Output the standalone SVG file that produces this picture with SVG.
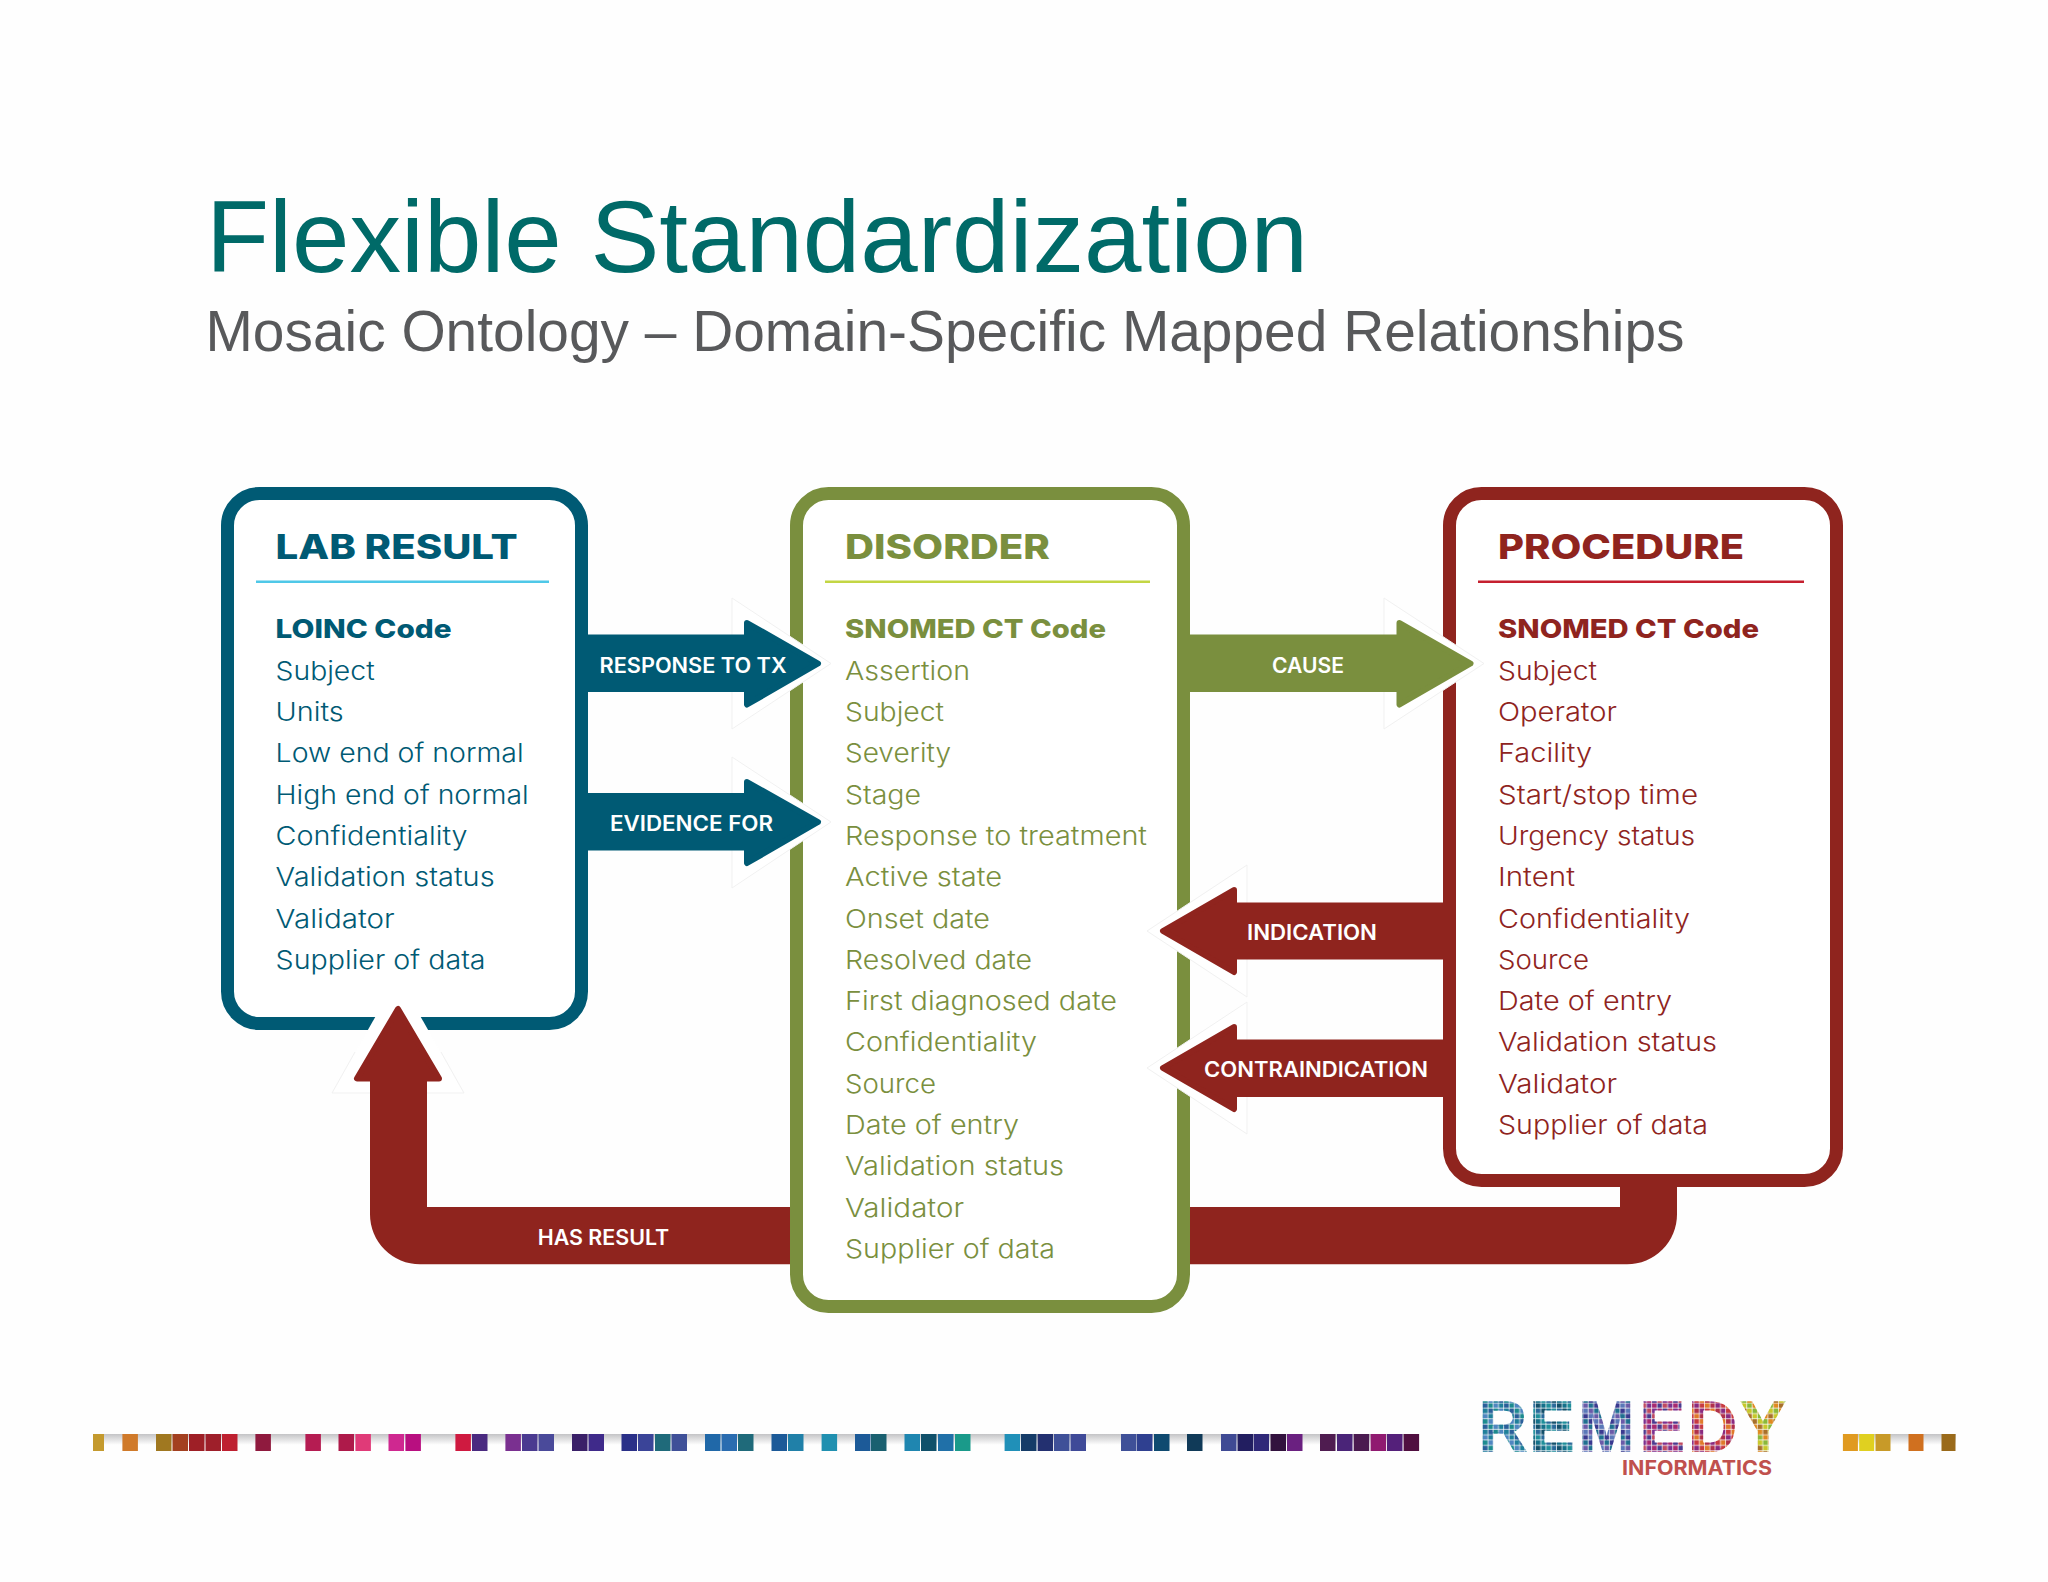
<svg xmlns="http://www.w3.org/2000/svg" width="2048" height="1582" viewBox="0 0 2048 1582">
<style>
text{font-family:Inter,"Open Sans","Liberation Sans",sans-serif}
.box{fill:#fff;stroke-width:13}
.h{font-size:34px;font-weight:800}
.b{font-size:26px;font-weight:800}
.i{font-size:26px;font-weight:350}
.l{font-size:21px;font-weight:600;fill:#fff}
.blue{fill:#005a74}.green{fill:#7a8f3e}.red{fill:#8f241e}
.sblue{stroke:#005a74}.sgreen{stroke:#7a8f3e}.sred{stroke:#8f241e}
.head{stroke-width:6;stroke-linejoin:round}
.halo{fill:#fff;stroke:#f1f1f1;stroke-width:1}
</style>
<defs>
<linearGradient id="shade" x1="0" y1="0" x2="0" y2="1"><stop offset="0" stop-color="#c4c4c6"/><stop offset="1" stop-color="#fff"/></linearGradient>
<path id="t1" d="M0 0h5.4v4.5h-5.4zM6.25 5.3h5.4v4.5h-5.4zM12.5 10.6h5.4v4.5h-5.4zM18.75 15.9h5.4v4.5h-5.4z"/>
<path id="t2" d="M6.25 0h5.4v4.5h-5.4zM12.5 5.3h5.4v4.5h-5.4zM18.75 10.6h5.4v4.5h-5.4zM0 15.9h5.4v4.5h-5.4z"/>
<path id="t3" d="M12.5 0h5.4v4.5h-5.4zM18.75 5.3h5.4v4.5h-5.4zM0 10.6h5.4v4.5h-5.4zM6.25 15.9h5.4v4.5h-5.4z"/>
<path id="t4" d="M18.75 0h5.4v4.5h-5.4zM0 5.3h5.4v4.5h-5.4zM6.25 10.6h5.4v4.5h-5.4zM12.5 15.9h5.4v4.5h-5.4z"/>
<pattern id="m1" width="25" height="21.2" patternUnits="userSpaceOnUse" patternTransform="scale(.89 1)"><use href="#t1" fill="#1f7f9a"/><use href="#t2" fill="#2a5f9a"/><use href="#t3" fill="#1c8a8f"/><use href="#t4" fill="#4f86c0"/></pattern>
<pattern id="m2" width="25" height="21.2" patternUnits="userSpaceOnUse" patternTransform="scale(.89 1)"><use href="#t1" fill="#15708a"/><use href="#t2" fill="#1f8f9a"/><use href="#t3" fill="#2a6a9a"/><use href="#t4" fill="#13506a"/></pattern>
<pattern id="m3" width="25" height="21.2" patternUnits="userSpaceOnUse" patternTransform="scale(.89 1)"><use href="#t1" fill="#6a5aa8"/><use href="#t2" fill="#1f6f90"/><use href="#t3" fill="#3a3a90"/><use href="#t4" fill="#5a78b8"/></pattern>
<pattern id="m4" width="25" height="21.2" patternUnits="userSpaceOnUse" patternTransform="scale(.89 1)"><use href="#t1" fill="#7a3090"/><use href="#t2" fill="#a82a70"/><use href="#t3" fill="#4a3a90"/><use href="#t4" fill="#c04a60"/></pattern>
<pattern id="m5" width="25" height="21.2" patternUnits="userSpaceOnUse" patternTransform="scale(.89 1)"><use href="#t1" fill="#b0304a"/><use href="#t2" fill="#8a2a80"/><use href="#t3" fill="#c83a40"/><use href="#t4" fill="#e07a2a"/></pattern>
<pattern id="m6" width="25" height="21.2" patternUnits="userSpaceOnUse" patternTransform="scale(.89 1)"><use href="#t1" fill="#e08a20"/><use href="#t2" fill="#a8702a"/><use href="#t3" fill="#c8c82a"/><use href="#t4" fill="#8ab83a"/></pattern>
</defs>
<rect width="2048" height="1582" fill="#fefefe"/>
<g id="title">
<text x="206" y="272" font-size="102" fill="#006a68" style="font-family:'Liberation Sans',Arial,sans-serif" textLength="1102" lengthAdjust="spacingAndGlyphs">Flexible Standardization</text>
<text x="205.5" y="350.5" font-size="58" fill="#58595b" style="font-family:'Liberation Sans',Arial,sans-serif" textLength="1479" lengthAdjust="spacingAndGlyphs">Mosaic Ontology – Domain-Specific Mapped Relationships</text>
</g>
<g id="node-lab-result">
<rect class="box sblue" x="227.5" y="493.5" width="354" height="530" rx="32"/>
<text class="h blue" x="275.6" y="559" textLength="242" lengthAdjust="spacingAndGlyphs">LAB RESULT</text>
<rect x="256" y="580.5" width="293" height="2.5" fill="#4fc8e8"/>
<text class="b blue" x="275.6" y="638" textLength="176" lengthAdjust="spacingAndGlyphs">LOINC Code</text>
<text class="i blue" x="275.6" y="679.7" textLength="99" lengthAdjust="spacingAndGlyphs">Subject</text>
<text class="i blue" x="275.6" y="721" textLength="68" lengthAdjust="spacingAndGlyphs">Units</text>
<text class="i blue" x="275.6" y="762.3" textLength="248" lengthAdjust="spacingAndGlyphs">Low end of normal</text>
<text class="i blue" x="275.6" y="803.6" textLength="253" lengthAdjust="spacingAndGlyphs">High end of normal</text>
<text class="i blue" x="275.6" y="844.9" textLength="192" lengthAdjust="spacingAndGlyphs">Confidentiality</text>
<text class="i blue" x="275.6" y="886.2" textLength="219" lengthAdjust="spacingAndGlyphs">Validation status</text>
<text class="i blue" x="275.6" y="927.5" textLength="119" lengthAdjust="spacingAndGlyphs">Validator</text>
<text class="i blue" x="275.6" y="968.8" textLength="210" lengthAdjust="spacingAndGlyphs">Supplier of data</text>
</g>
<g id="node-disorder">
<rect class="box sgreen" x="796.5" y="493.5" width="387" height="813" rx="32"/>
<text class="h green" x="845" y="559" textLength="205" lengthAdjust="spacingAndGlyphs">DISORDER</text>
<rect x="825" y="580.5" width="325" height="2.5" fill="#c3d644"/>
<text class="b green" x="845" y="638" textLength="261" lengthAdjust="spacingAndGlyphs">SNOMED CT Code</text>
<text class="i green" x="845" y="679.7" textLength="125" lengthAdjust="spacingAndGlyphs">Assertion</text>
<text class="i green" x="845" y="721" textLength="99" lengthAdjust="spacingAndGlyphs">Subject</text>
<text class="i green" x="845" y="762.3" textLength="106" lengthAdjust="spacingAndGlyphs">Severity</text>
<text class="i green" x="845" y="803.6" textLength="76" lengthAdjust="spacingAndGlyphs">Stage</text>
<text class="i green" x="845" y="844.9" textLength="302" lengthAdjust="spacingAndGlyphs">Response to treatment</text>
<text class="i green" x="845" y="886.2" textLength="157" lengthAdjust="spacingAndGlyphs">Active state</text>
<text class="i green" x="845" y="927.5" textLength="145" lengthAdjust="spacingAndGlyphs">Onset date</text>
<text class="i green" x="845" y="968.8" textLength="187" lengthAdjust="spacingAndGlyphs">Resolved date</text>
<text class="i green" x="845" y="1010.1" textLength="272" lengthAdjust="spacingAndGlyphs">First diagnosed date</text>
<text class="i green" x="845" y="1051.4" textLength="192" lengthAdjust="spacingAndGlyphs">Confidentiality</text>
<text class="i green" x="845" y="1092.7" textLength="91" lengthAdjust="spacingAndGlyphs">Source</text>
<text class="i green" x="845" y="1134" textLength="174" lengthAdjust="spacingAndGlyphs">Date of entry</text>
<text class="i green" x="845" y="1175.3" textLength="219" lengthAdjust="spacingAndGlyphs">Validation status</text>
<text class="i green" x="845" y="1216.6" textLength="119" lengthAdjust="spacingAndGlyphs">Validator</text>
<text class="i green" x="845" y="1257.9" textLength="210" lengthAdjust="spacingAndGlyphs">Supplier of data</text>
</g>
<g id="node-procedure">
<rect class="box sred" x="1449.5" y="493.5" width="387" height="687" rx="32"/>
<text class="h red" x="1498" y="559" textLength="246" lengthAdjust="spacingAndGlyphs">PROCEDURE</text>
<rect x="1478" y="580.5" width="326" height="2.5" fill="#c5202f"/>
<text class="b red" x="1498" y="638" textLength="261" lengthAdjust="spacingAndGlyphs">SNOMED CT Code</text>
<text class="i red" x="1498" y="679.7" textLength="99" lengthAdjust="spacingAndGlyphs">Subject</text>
<text class="i red" x="1498" y="721" textLength="119" lengthAdjust="spacingAndGlyphs">Operator</text>
<text class="i red" x="1498" y="762.3" textLength="94" lengthAdjust="spacingAndGlyphs">Facility</text>
<text class="i red" x="1498" y="803.6" textLength="200" lengthAdjust="spacingAndGlyphs">Start/stop time</text>
<text class="i red" x="1498" y="844.9" textLength="197" lengthAdjust="spacingAndGlyphs">Urgency status</text>
<text class="i red" x="1498" y="886.2" textLength="77" lengthAdjust="spacingAndGlyphs">Intent</text>
<text class="i red" x="1498" y="927.5" textLength="192" lengthAdjust="spacingAndGlyphs">Confidentiality</text>
<text class="i red" x="1498" y="968.8" textLength="91" lengthAdjust="spacingAndGlyphs">Source</text>
<text class="i red" x="1498" y="1010.1" textLength="174" lengthAdjust="spacingAndGlyphs">Date of entry</text>
<text class="i red" x="1498" y="1051.4" textLength="219" lengthAdjust="spacingAndGlyphs">Validation status</text>
<text class="i red" x="1498" y="1092.7" textLength="119" lengthAdjust="spacingAndGlyphs">Validator</text>
<text class="i red" x="1498" y="1134" textLength="210" lengthAdjust="spacingAndGlyphs">Supplier of data</text>
</g>
<g id="connectors">
<g id="response-to-tx">
<polygon class="halo" points="732,598 831,663.5 732,729"/>
<path class="blue" d="M588 634.6H750V692H588z"/>
<polygon class="head blue sblue" points="747,623 818,663.5 747,704.5"/>
<text class="l" x="599.5" y="672.5" textLength="187" lengthAdjust="spacingAndGlyphs">RESPONSE TO TX</text>
</g>
<g id="evidence-for">
<polygon class="halo" points="732,757 831,822 732,888"/>
<path class="blue" d="M588 793H750V850.5H588z"/>
<polygon class="head blue sblue" points="747,782 818,822 747,863"/>
<text class="l" x="610" y="830.5" textLength="163" lengthAdjust="spacingAndGlyphs">EVIDENCE FOR</text>
</g>
<g id="cause">
<polygon class="halo" points="1384,598 1484,663.5 1384,729"/>
<path class="green" d="M1190 634.6H1402V692H1190z"/>
<polygon class="head green sgreen" points="1399.5,623 1470.5,663.5 1399.5,704.5"/>
<text class="l" x="1272" y="672.5" textLength="72" lengthAdjust="spacingAndGlyphs">CAUSE</text>
</g>
<g id="indication">
<polygon class="halo" points="1247,865 1147,931 1247,997"/>
<path class="red" d="M1443 902.5H1232V959.5H1443z"/>
<polygon class="head red sred" points="1234,890 1163,931 1234,972"/>
<text class="l" x="1247" y="940" textLength="130" lengthAdjust="spacingAndGlyphs">INDICATION</text>
</g>
<g id="contraindication">
<polygon class="halo" points="1247,1002 1147,1068 1247,1134"/>
<path class="red" d="M1443 1039.5H1232V1097H1443z"/>
<polygon class="head red sred" points="1234,1027 1163,1068 1234,1109"/>
<text class="l" x="1204" y="1077" textLength="224" lengthAdjust="spacingAndGlyphs">CONTRAINDICATION</text>
</g>
<g id="has-result">
<polygon fill="#fff" points="332,1093 398,977 464,1093"/>
<path fill="none" stroke="#f1f1f1" d="M355 1052L332 1093H464L441 1052"/>
<path class="red" d="M790 1207H427V1076H370V1214A50 50 0 0 0 420 1264.3H790z"/>
<polygon class="head red sred" points="398,1009 357,1078.5 439,1078.5"/>
<path class="red" d="M1190 1207H1620V1180H1677V1214A50 50 0 0 1 1627 1264.3H1190z"/>
<text class="l" x="537.7" y="1245" textLength="131.5" lengthAdjust="spacingAndGlyphs">HAS RESULT</text>
</g>
</g>
<g id="footer-strip">
<rect x="93" y="1434" width="1326" height="11" fill="url(#shade)"/>
<rect x="1843" y="1434" width="113" height="11" fill="url(#shade)"/>
<g id="strip-squares">
<rect x="93" y="1434" width="11" height="17" fill="#c49a2e"/>
<rect x="122.4" y="1434" width="15.5" height="17" fill="#d07a2a"/>
<rect x="156" y="1434" width="15.5" height="17" fill="#a07820"/>
<rect x="172.5" y="1434" width="15.5" height="17" fill="#a34020"/>
<rect x="189" y="1434" width="15.5" height="17" fill="#9e1f26"/>
<rect x="205.5" y="1434" width="15.5" height="17" fill="#9e1f2a"/>
<rect x="222" y="1434" width="15.5" height="17" fill="#be2030"/>
<rect x="255.4" y="1434" width="15.5" height="17" fill="#8f1a3e"/>
<rect x="305.4" y="1434" width="15.5" height="17" fill="#b51c52"/>
<rect x="338.5" y="1434" width="15.5" height="17" fill="#ae1a4a"/>
<rect x="355.4" y="1434" width="15.5" height="17" fill="#e03a78"/>
<rect x="388.5" y="1434" width="15.5" height="17" fill="#cf2890"/>
<rect x="405.4" y="1434" width="15.5" height="17" fill="#b80f80"/>
<rect x="455.4" y="1434" width="15.5" height="17" fill="#cf1a40"/>
<rect x="472" y="1434" width="15.5" height="17" fill="#4a2a80"/>
<rect x="505.4" y="1434" width="15.5" height="17" fill="#7a3090"/>
<rect x="522" y="1434" width="15.5" height="17" fill="#4a3a90"/>
<rect x="538.5" y="1434" width="15.5" height="17" fill="#4a4a9a"/>
<rect x="572" y="1434" width="15.5" height="17" fill="#3a2068"/>
<rect x="588.5" y="1434" width="15.5" height="17" fill="#3f2a8a"/>
<rect x="621.5" y="1434" width="15.5" height="17" fill="#2a3088"/>
<rect x="638" y="1434" width="15.5" height="17" fill="#3a4498"/>
<rect x="655" y="1434" width="15.5" height="17" fill="#1f6a7a"/>
<rect x="671.5" y="1434" width="15.5" height="17" fill="#3f5098"/>
<rect x="705" y="1434" width="15.5" height="17" fill="#2068a8"/>
<rect x="721.5" y="1434" width="15.5" height="17" fill="#2a6cb0"/>
<rect x="738" y="1434" width="15.5" height="17" fill="#1f6a7a"/>
<rect x="771.5" y="1434" width="15.5" height="17" fill="#1c5a98"/>
<rect x="788" y="1434" width="15.5" height="17" fill="#2080a8"/>
<rect x="821.6" y="1434" width="15.5" height="17" fill="#2090b0"/>
<rect x="855" y="1434" width="15.5" height="17" fill="#1c5a98"/>
<rect x="871" y="1434" width="15.5" height="17" fill="#1a6070"/>
<rect x="904.5" y="1434" width="15.5" height="17" fill="#1f86b0"/>
<rect x="921" y="1434" width="15.5" height="17" fill="#10506a"/>
<rect x="938" y="1434" width="15.5" height="17" fill="#2070a8"/>
<rect x="955" y="1434" width="15.5" height="17" fill="#1a9a8a"/>
<rect x="1004.6" y="1434" width="15.5" height="17" fill="#2090b8"/>
<rect x="1021" y="1434" width="15.5" height="17" fill="#153c68"/>
<rect x="1037.6" y="1434" width="15.5" height="17" fill="#233070"/>
<rect x="1054" y="1434" width="15.5" height="17" fill="#3f5098"/>
<rect x="1070.5" y="1434" width="15.5" height="17" fill="#3f4a98"/>
<rect x="1121" y="1434" width="15.5" height="17" fill="#3f5098"/>
<rect x="1137" y="1434" width="15.5" height="17" fill="#2f4090"/>
<rect x="1154" y="1434" width="15.5" height="17" fill="#0f4a70"/>
<rect x="1187" y="1434" width="15.5" height="17" fill="#103a58"/>
<rect x="1221" y="1434" width="15.5" height="17" fill="#3f4a94"/>
<rect x="1237.5" y="1434" width="15.5" height="17" fill="#221e60"/>
<rect x="1253.6" y="1434" width="15.5" height="17" fill="#2f2878"/>
<rect x="1270.5" y="1434" width="15.5" height="17" fill="#32123e"/>
<rect x="1287" y="1434" width="15.5" height="17" fill="#6a2080"/>
<rect x="1320" y="1434" width="15.5" height="17" fill="#4f1c50"/>
<rect x="1337" y="1434" width="15.5" height="17" fill="#4a2478"/>
<rect x="1353.7" y="1434" width="15.5" height="17" fill="#4a1a50"/>
<rect x="1370.6" y="1434" width="15.5" height="17" fill="#901a70"/>
<rect x="1387" y="1434" width="15.5" height="17" fill="#54207a"/>
<rect x="1403.6" y="1434" width="15.5" height="17" fill="#500f40"/>
<rect x="1842.9" y="1434" width="15" height="17" fill="#e09a20"/>
<rect x="1859.2" y="1434" width="15" height="17" fill="#e0d020"/>
<rect x="1875.5" y="1434" width="15" height="17" fill="#c89a28"/>
<rect x="1908.5" y="1434" width="15" height="17" fill="#d0701f"/>
<rect x="1941.5" y="1434" width="14" height="17" fill="#9a6a1a"/>
</g>
</g>
<g id="logo">
<text transform="translate(1483 1451) scale(.95 1)" font-size="71" font-weight="700" stroke-width="1.5" style="font-family:'Liberation Sans',Arial,sans-serif"><tspan x="-5" y="0" fill="url(#m1)" stroke="url(#m1)">R</tspan><tspan x="49" fill="url(#m2)" stroke="url(#m2)">E</tspan><tspan x="100.5" fill="url(#m3)" stroke="url(#m3)">M</tspan><tspan x="165" fill="url(#m4)" stroke="url(#m4)">E</tspan><tspan x="216" fill="url(#m5)" stroke="url(#m5)">D</tspan><tspan x="271" fill="url(#m6)" stroke="url(#m6)">Y</tspan></text>
<text x="1622" y="1475" font-size="20" font-weight="700" fill="#c0504d" textLength="150" lengthAdjust="spacingAndGlyphs">INFORMATICS</text>
</g>
</svg>
